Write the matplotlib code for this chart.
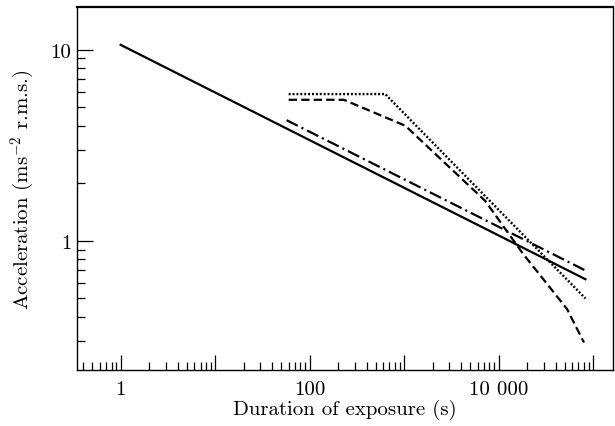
import matplotlib
matplotlib.use("Agg")
import matplotlib.pyplot as plt
from matplotlib.ticker import FixedLocator, FixedFormatter, LogLocator, NullFormatter

plt.rcParams["font.family"] = "cmr10"
plt.rcParams["mathtext.fontset"] = "cm"
plt.rcParams["axes.formatter.use_mathtext"] = True
plt.rcParams["lines.scale_dashes"] = False

# --- data (duration in s, acceleration in m/s^2 rms) ---
solid_t = [1, 83000]
solid_a = [10.6, 0.63]

dashdot_t = [57, 83000]
dashdot_a = [4.28, 0.70]

dotted_t = [60, 630, 83000]
dotted_a = [5.86, 5.86, 0.50]

dashed_t = [60, 230, 1030, 7200, 18000, 53000, 80000]
dashed_a = [5.47, 5.47, 4.0, 1.62, 0.86, 0.44, 0.294]

x_major = [1e-1, 1, 1e1, 1e2, 1e3, 1e4, 1e5]
x_labels = ["", "1", "", "100", "", "10 000", ""]
y_major = [1, 10]
y_labels = ["1", "10"]

fig = plt.figure(figsize=(6.15, 4.27), dpi=100)
ax = fig.add_axes([0.125, 0.131, 0.872, 0.850])

ax.plot(solid_t, solid_a, color="black", lw=1.6, linestyle="-")
ax.plot(dashdot_t, dashdot_a, color="black", lw=1.6, dashes=(9, 3, 1.5, 3))
ax.plot(dotted_t, dotted_a, color="black", lw=1.7, dashes=(1.4, 1.4))
ax.plot(dashed_t, dashed_a, color="black", lw=1.6, dashes=(6, 3))

ax.set_xscale("log")
ax.set_yscale("log")
ax.set_xlim(0.344, 1.63e5)
ax.set_ylim(0.211, 16.7)

ax.xaxis.set_major_locator(FixedLocator(x_major))
ax.xaxis.set_major_formatter(FixedFormatter(x_labels))
ax.xaxis.set_minor_locator(LogLocator(base=10, subs=range(2, 10), numticks=20))
ax.xaxis.set_minor_formatter(NullFormatter())
ax.yaxis.set_major_locator(FixedLocator(y_major))
ax.yaxis.set_major_formatter(FixedFormatter(y_labels))
ax.yaxis.set_minor_locator(LogLocator(base=10, subs=range(2, 10), numticks=20))
ax.yaxis.set_minor_formatter(NullFormatter())

ax.tick_params(which="both", direction="in", top=False, right=False,
               width=0.9, labelsize=15)
ax.tick_params(which="major", length=11)
ax.tick_params(which="minor", length=6)
ax.tick_params(axis="x", which="major", pad=7)
ax.tick_params(axis="y", which="major", length=11.5, pad=4)

for side in ["left", "bottom", "right"]:
    ax.spines[side].set_linewidth(1.0)
ax.spines["top"].set_linewidth(1.6)

ax.set_xlabel("Duration of exposure (s)", fontsize=15, labelpad=1)
ax.set_ylabel("Acceleration (ms$^{-2}$ r.m.s.)", fontsize=15, labelpad=10)

fig.savefig("out.png", dpi=100)
